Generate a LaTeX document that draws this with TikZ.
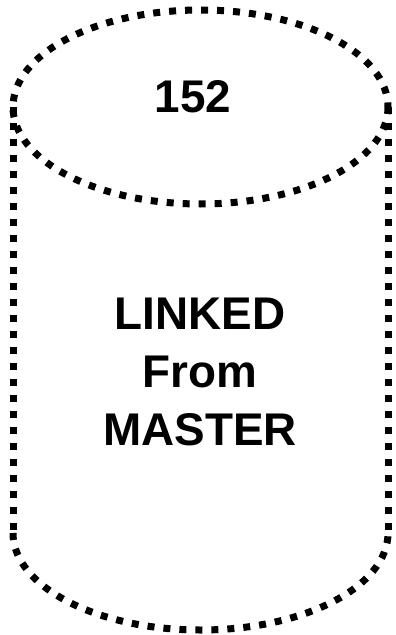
\documentclass[tikz,border=0pt]{standalone}
\usepackage{fontspec}
\setmainfont{Liberation Sans}
\begin{document}
\begin{tikzpicture}[x=1bp,y=-1bp,
  dotline/.style={line width=7bp, dash pattern=on 7bp off 9bp, line cap=butt},
  label/.style={font=\bfseries\fontsize{46}{58}\selectfont, align=center, inner sep=0pt}]
\useasboundingbox (0,0) rectangle (395,635);
% top ellipse
\draw[dotline] (200.5,107) ellipse [x radius=187.5, y radius=97];
% sides
\draw[dotline] (13,107) -- (13,533);
\draw[dotline] (388,107) -- (388,533);
% bottom half ellipse
\draw[dotline] (13,533) arc[start angle=180, end angle=360, x radius=187.5, y radius=-97];
\node[label] (num) at (193,97) {152};
\node[label] (txt) at (200,372) {LINKED\\From\\MASTER};
\end{tikzpicture}
\end{document}
